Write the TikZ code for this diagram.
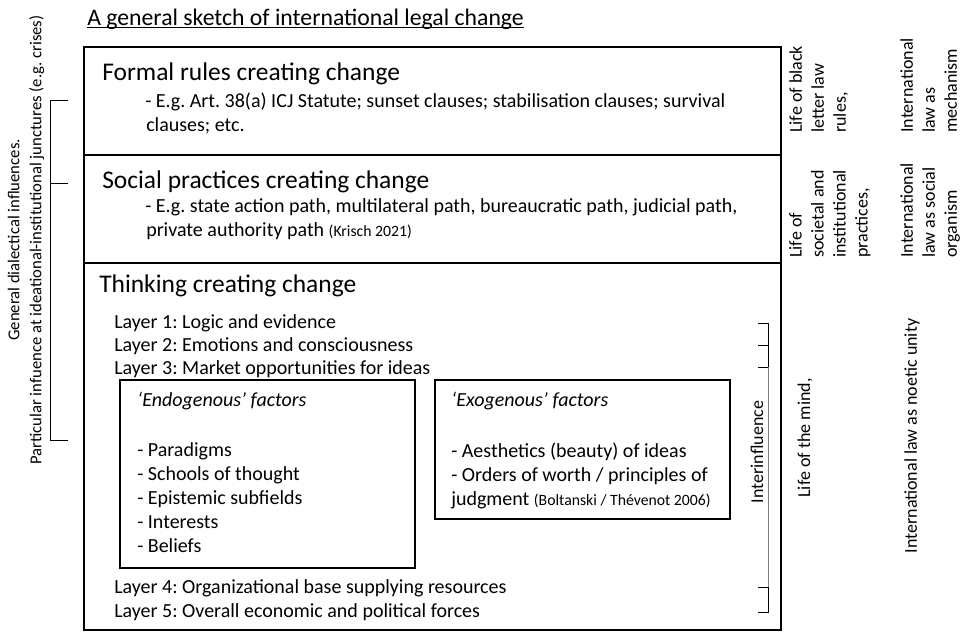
\documentclass[tikz,border=0pt]{standalone}
\usepackage{fontspec}
\setmainfont{Carlito}
\frenchspacing
\newcommand\refnote[1]{{\fontsize{11.8}{14}\selectfont #1}}

\begin{document}
\begin{tikzpicture}[x=0.75pt, y=-0.75pt,
  body/.style={inner sep=0pt, anchor=base west, font=\fontsize{15}{18}\selectfont},
  head/.style={inner sep=0pt, anchor=base west, font=\fontsize{19.1}{23}\selectfont},
  side/.style={inner sep=0pt, rotate=90, align=left, font=\fontsize{13.5}{16.5}\selectfont},
  frame/.style={draw, line width=1.1pt},
  factorbox/.style={draw, line width=0.9pt},
  brace/.style={line width=0.6pt}]
  \useasboundingbox (0,0) rectangle (961,636);

  % title
  \node[body, font=\fontsize{17.8}{21}\selectfont] (title) at (87,25) {A general sketch of international legal change};
  \draw[line width=0.8pt] ([yshift=-2pt]title.base west) -- ([yshift=-2pt]title.base east);

  % the three layers of change
  \draw[frame] (84,47) rectangle (781,630);
  \draw[line width=1.5pt] (84,155) -- (781,155);
  \draw[line width=1.5pt] (84,263) -- (781,263);

  \node[head] (formal) at (102,80) {Formal rules creating change};
  \node[body] (formalA) at (145,107) {- E.g. Art. 38(a) ICJ Statute; sunset clauses; stabilisation clauses; survival};
  \node[body] (formalB) at (146,131) {clauses; etc.};

  \node[head] (social) at (102,188) {Social practices creating change};
  \node[body] (socialA) at (145,212) {- E.g. state action path, multilateral path, bureaucratic path, judicial path,};
  \node[body] (socialB) at (146,236) {private authority path \refnote{(Krisch 2021)}};

  \node[head] (thinking) at (99,292) {Thinking creating change};
  \foreach \n/\y/\t in {1/328/Logic and evidence, 2/351/Emotions and consciousness,
      3/374/Market opportunities for ideas, 4/593/Organizational base supplying resources,
      5/617/Overall economic and political forces}
    \node[body] (layer\n) at (114,\y) {Layer \n: \t};

  % factors
  \draw[factorbox] (120,380) rectangle (415,568);
  \node[body] (endo) at (137,406) {\textit{‘Endogenous’ factors}};
  \foreach \i/\t in {0/Paradigms, 1/Schools of thought, 2/Epistemic subfields, 3/Interests, 4/Beliefs}
    \node[body] (endo\i) at (137,{456+24*\i}) {- \t};

  \draw[factorbox] (435,380) rectangle (730,519);
  \node[body] (exo) at (451,406) {\textit{‘Exogenous’ factors}};
  \node[body] (exo1) at (451,457) {- Aesthetics (beauty) of ideas};
  \node[body] (exo2) at (451,481) {- Orders of worth / principles of};
  \node[body] (exo3) at (451,505) {judgment \refnote{(Boltanski / Thévenot 2006)}};

  % interinfluence bracket
  \draw[brace] (758,323) -- (768,323) -- (768,367) -- (758,367);
  \draw[brace] (758,345) -- (768,345);
  \draw[brace, gray] (768,367) -- (768,587);
  \draw[brace] (758,587) -- (768,587) -- (768,612) -- (758,612);
  \node[side] (inter) at (757,452) {Interinfluence};

  % dialectical influences
  \draw[brace] (68,100) -- (50,100) -- (50,440) -- (68,440);
  \draw[brace] (50,183) -- (68,183);
  \node[side, align=center, font=\fontsize{12.5}{16.5}\selectfont] (influence) at (26,240)
    {General dialectical influences.\\Particular infuence at ideational-institutional junctures (e.g. crises)};

  % lives and images of international law
  \node[side, anchor=north west] (life1) at (789,133) {Life of black\\letter law\\rules,};
  \node[side, anchor=north west] (law1) at (900,133) {International\\law as\\mechanism};
  \node[side, anchor=north west] (life2) at (789,258) {Life of\\societal and\\institutional\\practices,};
  \node[side, anchor=north west] (law2) at (900,258) {International\\law as social\\organism};
  \node[side] (life3) at (805,438) {Life of the mind,};
  \node[side] (law3) at (912,436) {International law as noetic unity};
\end{tikzpicture}
\end{document}
